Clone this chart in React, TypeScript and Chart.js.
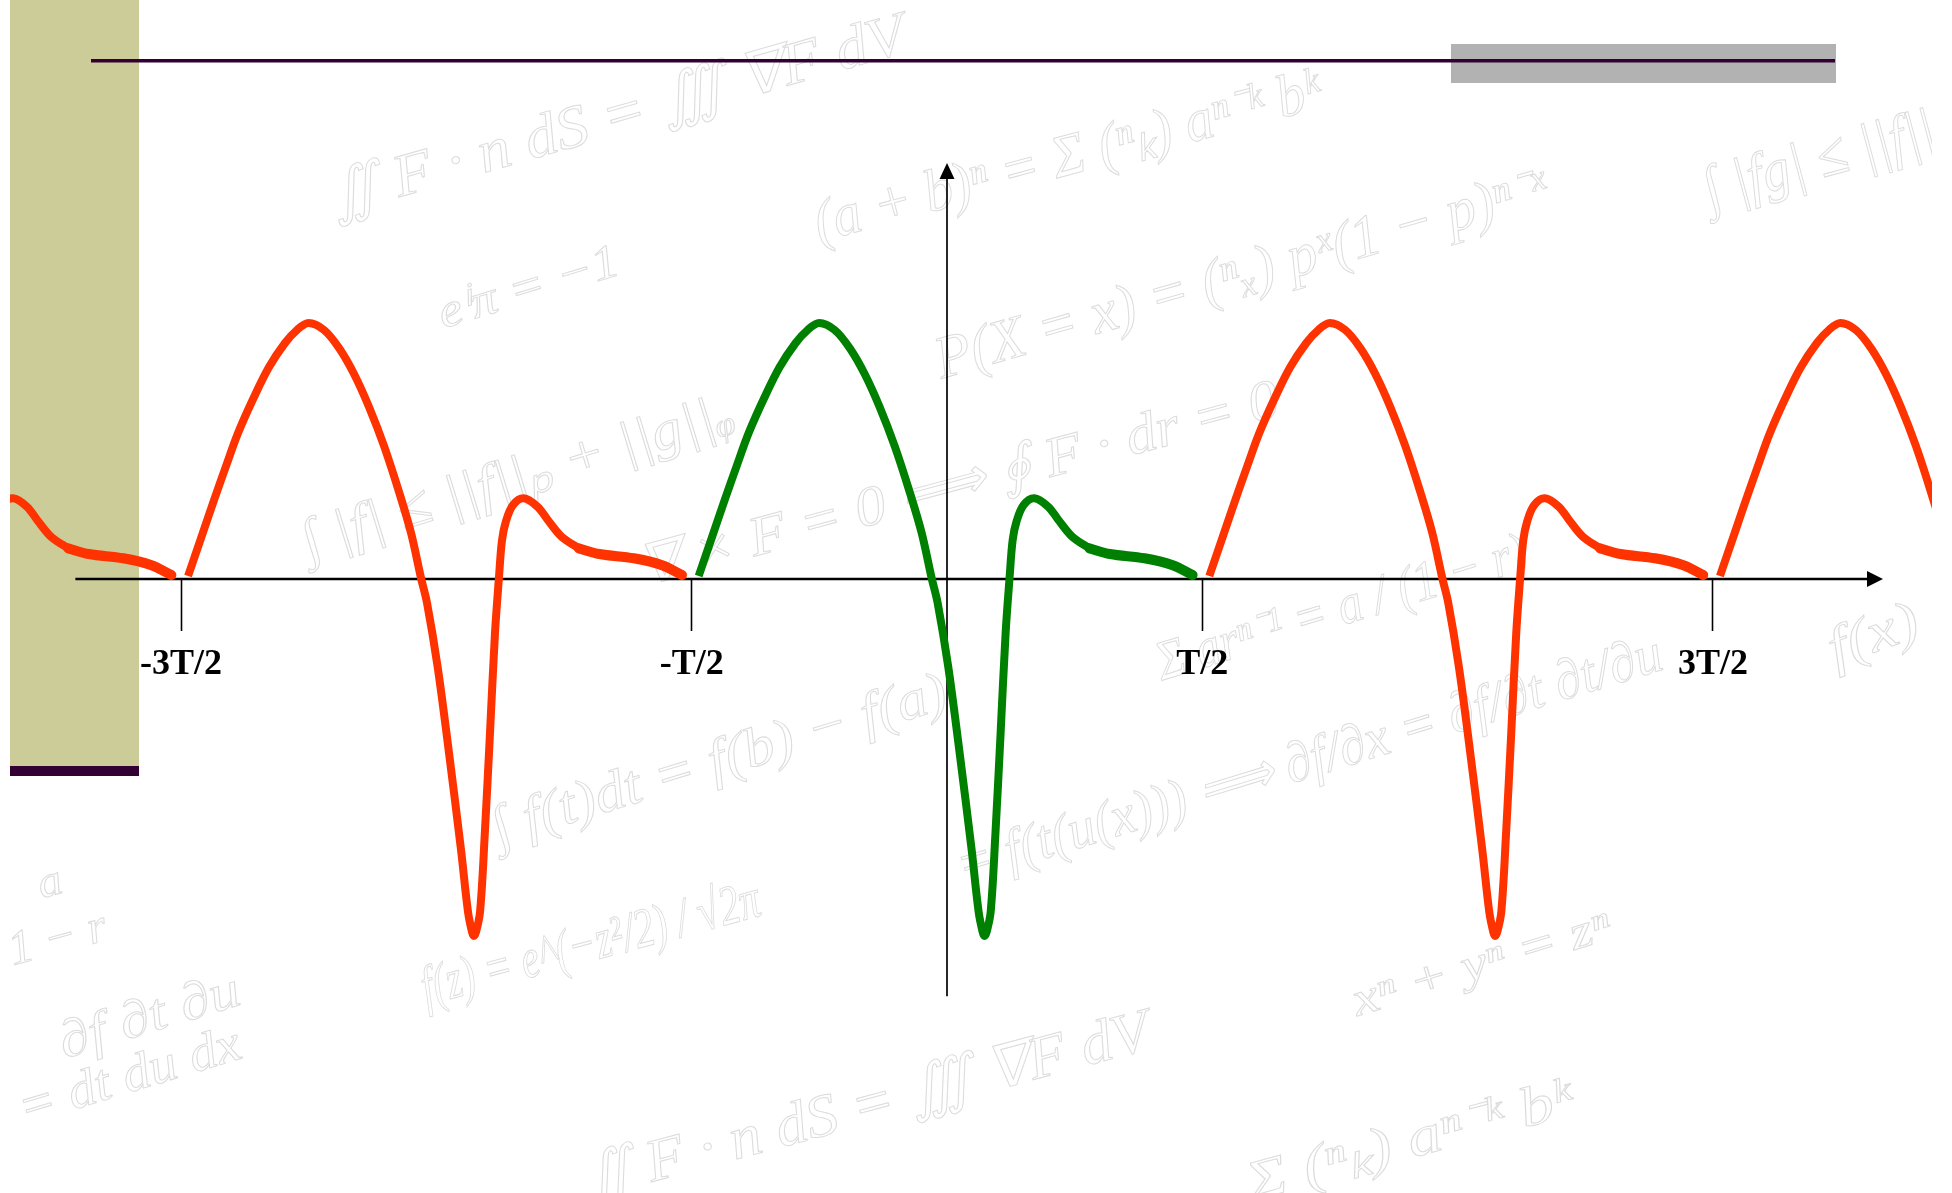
import { useEffect, useRef } from 'react';
import { Chart, registerables } from 'chart.js';

Chart.register(...registerables);

// One period of the waveform, phase measured in units of T from the period start.
// Main pulse: steep rise, big positive lobe, deep negative spike, small overshoot.
const PULSE_PHASE = [
  0.0137, 0.0392, 0.0646, 0.0881, 0.1116, 0.1429, 0.1723, 0.2036, 0.2271, 0.2497,
  0.28, 0.3094, 0.3388, 0.3681, 0.3975, 0.4269, 0.4504, 0.4699, 0.4817, 0.5024,
  0.524, 0.5483, 0.562, 0.5698, 0.5733, 0.5776, 0.5855, 0.5949, 0.605, 0.6148,
  0.6225, 0.6286, 0.6364, 0.6501, 0.671, 0.6981, 0.7182, 0.7453, 0.7789,
];
const PULSE_VALUE = [
  0.0117, 0.1602, 0.3086, 0.4414, 0.5703, 0.7109, 0.8281, 0.9219, 0.9727, 1.0,
  0.9727, 0.9023, 0.8008, 0.6719, 0.5195, 0.3398, 0.1797, 0.0039, -0.0938, -0.3426,
  -0.668, -1.0586, -1.3008, -1.3789, -1.3945, -1.3789, -1.3008, -0.9922, -0.6016, -0.2109,
  0.0039, 0.1523, 0.2266, 0.2891, 0.3152, 0.2824, 0.2305, 0.1652, 0.1199,
];
// Slow decay back to zero at the end of each period.
const TAIL_PHASE = [0.7789, 0.8193, 0.8868, 0.9407, 0.981];
const TAIL_VALUE = [0.1199, 0.0977, 0.0809, 0.0547, 0.0156];

// Start of each period drawn (units of T); the one starting at -T/2 is highlighted.
const PERIOD_STARTS = [-2.5, -1.5, -0.5, 0.5, 1.5];
const HIGHLIGHT_START = -0.5;

const TICK_VALUES = [-1.5, -0.5, 0.5, 1.5];
const TICK_LABELS = ['-3T/2', '-T/2', 'T/2', '3T/2'];

// Visible extent of the two arrowed axes (data units).
const X_AXIS_FROM = -1.707;
const X_AXIS_TO = 1.833;
const Y_AXIS_FROM = -1.63;
const Y_AXIS_TO = 1.625;

const RED = '#ff3300';
const GREEN = '#008000';

// Faint formula watermark of the slide background.
const FORMULAS = [
  { text: '∬ F · n dS = ∭ ∇F dV', cx: 618, cy: 118, len: 598, angle: -16, size: 60 },
  { text: '(a + b)ⁿ = Σ (ⁿₖ) aⁿ⁻ᵏ bᵏ', cx: 1068, cy: 159, len: 523, angle: -15, size: 60 },
  { text: '∫ |fg| ≤ ||f||', cx: 1820, cy: 162, len: 237, angle: -15, size: 60 },
  { text: 'eⁱπ = −1', cx: 529, cy: 289, len: 187, angle: -17, size: 48 },
  { text: 'P(X = x) = (ⁿₓ) pˣ(1 − p)ⁿ⁻ˣ', cx: 1242, cy: 276, len: 635, angle: -16, size: 60 },
  { text: '∫ |f| ≤ ||f||ₚ + ||g||ᵩ', cx: 518, cy: 479, len: 448, angle: -17, size: 56 },
  { text: '∇ × F = 0 ⟹ ∮ F · dr = 0', cx: 960, cy: 486, len: 660, angle: -15, size: 56 },
  { text: 'Σ arⁿ⁻¹ = a / (1 − r)', cx: 1342, cy: 610, len: 386, angle: -17, size: 56 },
  { text: '∫ f(t)dt = f(b) − f(a)', cx: 720, cy: 762, len: 473, angle: -17, size: 56 },
  { text: 'f(x)', cx: 1874, cy: 637, len: 93, angle: -20, size: 56 },
  { text: 'a', cx: 50, cy: 884, len: 24, angle: -15, size: 44 },
  { text: '1 − r', cx: 58, cy: 940, len: 100, angle: -15, size: 48 },
  { text: '∂f ∂t ∂u', cx: 150, cy: 1018, len: 187, angle: -17, size: 52 },
  { text: '= dt du dx', cx: 130, cy: 1078, len: 230, angle: -17, size: 52 },
  { text: 'f(z) = e^(−z²/2) / √2π', cx: 591, cy: 946, len: 349, angle: -15, size: 56 },
  { text: '= f(t(u(x))) ⟹ ∂f/∂x = ∂f/∂t ∂t/∂u', cx: 1310, cy: 762, len: 735, angle: -17, size: 56 },
  { text: 'xⁿ + yⁿ = zⁿ', cx: 1482, cy: 965, len: 268, angle: -17, size: 48 },
  { text: '∬ F · n dS = ∭ ∇F dV', cx: 867, cy: 1108, len: 585, angle: -15, size: 60 },
  { text: 'Σ (ⁿₖ) aⁿ⁻ᵏ bᵏ', cx: 1410, cy: 1143, len: 336, angle: -15, size: 56 },
];

const shift = (phases: number[], values: number[], start: number) =>
  phases.map((p, i) => ({ x: start + p, y: values[i] }));

const datasets = PERIOD_STARTS.flatMap((start) => {
  const color = start === HIGHLIGHT_START ? GREEN : RED;
  return [
    {
      data: shift(PULSE_PHASE, PULSE_VALUE, start),
      borderColor: color,
      borderWidth: 8,
      borderCapStyle: 'butt' as const,
      borderJoinStyle: 'round' as const,
      tension: 0.35,
      pointRadius: 0,
      clip: 0,
    },
    {
      data: shift(TAIL_PHASE, TAIL_VALUE, start),
      borderColor: color,
      borderWidth: 10,
      borderCapStyle: 'round' as const,
      borderJoinStyle: 'round' as const,
      tension: 0.35,
      pointRadius: 0,
      clip: 0,
    },
  ];
});

// Slide frame: khaki side band, title rule, grey accent bar, formula watermark.
const slidePlugin = {
  id: 'slideBackground',
  beforeDraw(chart: any) {
    const { ctx, width, height } = chart;
    ctx.save();
    ctx.fillStyle = '#ffffff';
    ctx.fillRect(0, 0, width, height);
    ctx.beginPath();
    ctx.rect(10, 0, 1922, height);
    ctx.clip();

    ctx.strokeStyle = '#dcdcdc';
    ctx.lineWidth = 1;
    ctx.textAlign = 'center';
    ctx.textBaseline = 'middle';
    for (const f of FORMULAS) {
      ctx.save();
      ctx.translate(f.cx, f.cy);
      ctx.rotate((f.angle * Math.PI) / 180);
      ctx.font = `italic ${f.size}px "Liberation Serif"`;
      const w = ctx.measureText(f.text).width;
      ctx.scale(f.len / w, 1);
      ctx.strokeText(f.text, 0, 0);
      ctx.restore();
    }

    ctx.fillStyle = '#cccc99';
    ctx.fillRect(10, 0, 129, 766);
    ctx.fillStyle = '#330033';
    ctx.fillRect(10, 766, 129, 10);

    ctx.fillStyle = '#b2b2b2';
    ctx.fillRect(1451, 44, 385, 39);
    ctx.fillStyle = '#330033';
    ctx.fillRect(91, 59, 1744, 3.5);
    ctx.restore();
  },
};

// Arrowed coordinate axes crossing at the origin.
const axesPlugin = {
  id: 'arrowAxes',
  beforeDatasetsDraw(chart: any) {
    const { ctx } = chart;
    const { x, y } = chart.scales;
    const axisY = y.getPixelForValue(0);
    const axisX = x.getPixelForValue(0);
    ctx.save();
    ctx.strokeStyle = '#000';
    ctx.fillStyle = '#000';

    const xa = x.getPixelForValue(X_AXIS_FROM);
    const xb = x.getPixelForValue(X_AXIS_TO);
    ctx.lineWidth = 2.6;
    ctx.beginPath();
    ctx.moveTo(xa, axisY);
    ctx.lineTo(xb - 15, axisY);
    ctx.stroke();
    ctx.beginPath();
    ctx.moveTo(xb, axisY);
    ctx.lineTo(xb - 16, axisY - 8);
    ctx.lineTo(xb - 16, axisY + 8);
    ctx.closePath();
    ctx.fill();

    const ya = y.getPixelForValue(Y_AXIS_FROM);
    const yb = y.getPixelForValue(Y_AXIS_TO);
    ctx.lineWidth = 1.7;
    ctx.beginPath();
    ctx.moveTo(axisX, ya);
    ctx.lineTo(axisX, yb + 15);
    ctx.stroke();
    ctx.beginPath();
    ctx.moveTo(axisX, yb);
    ctx.lineTo(axisX - 7.5, yb + 16);
    ctx.lineTo(axisX + 7.5, yb + 16);
    ctx.closePath();
    ctx.fill();
    ctx.restore();
  },
};

export default function App() {
  const canvasRef = useRef<HTMLCanvasElement>(null);

  useEffect(() => {
    const canvas = canvasRef.current;
    if (!canvas) return;
    const chart = new Chart(canvas, {
      type: 'line',
      data: { datasets: datasets as any },
      options: {
        responsive: false,
        maintainAspectRatio: false,
        animation: false,
        events: [],
        layout: { padding: { left: 10, right: 20, top: 15.8, bottom: 50.8 } },
        plugins: { legend: { display: false }, tooltip: { enabled: false } },
        elements: { point: { radius: 0 } },
        scales: {
          x: {
            type: 'linear',
            min: -1.835,
            max: 1.929,
            position: { y: 0 } as any,
            afterBuildTicks: (axis: any) => {
              axis.ticks = TICK_VALUES.map((value) => ({ value }));
            },
            grid: {
              drawOnChartArea: false,
              drawTicks: true,
              tickLength: 52,
              tickWidth: 1.6,
              tickColor: '#000',
            },
            border: { display: false },
            ticks: {
              autoSkip: false,
              maxRotation: 0,
              minRotation: 0,
              padding: 12,
              color: '#000',
              font: { family: '"Liberation Serif"', size: 36, weight: 'bold' },
              callback: (_v: any, i: number) => TICK_LABELS[i],
            },
          },
          y: {
            type: 'linear',
            display: false,
            min: -2.2,
            max: 2.2,
          },
        },
      },
      plugins: [slidePlugin, axesPlugin],
    });
    return () => chart.destroy();
  }, []);

  return (
    <div style={{ position: 'fixed', left: 0, top: 0, width: 1952, height: 1193, background: '#fff' }}>
      <canvas ref={canvasRef} width={1952} height={1193} style={{ display: 'block', width: 1952, height: 1193 }} />
    </div>
  );
}
